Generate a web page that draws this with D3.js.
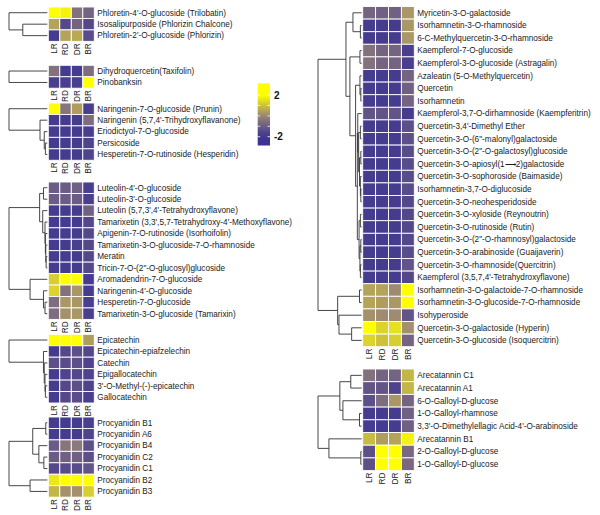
<!DOCTYPE html>
<html><head><meta charset="utf-8">
<script src="https://cdn.jsdelivr.net/npm/d3@7"></script>
<style>body{margin:0;background:#fff;} text{font-family:"Liberation Sans",Arial,sans-serif;}</style>
</head><body><svg id="chart" width="600" height="515"></svg>
<script>
const columns = ["LR","RD","DR","BR"];

// ---- Left column panels ----
const phloretinRows = ["Phloretin-4'-O-glucoside (Trilobatin)","Isosalipurposide (Phlorizin Chalcone)","Phloretin-2'-O-glucoside (Phlorizin)"];
const phloretinValues = [[2,1.8,-0.5,-0.8],[0.5,-1.5,-0.8,-1.5],[-1.8,0.5,0.6,-1.4]];
const phloretinTree = [1,0,[0.64,1,2]];

const taxifolinRows = ["Dihydroquercetin(Taxifolin)","Pinobanksin"];
const taxifolinValues = [[-0.5,-1.8,-1.8,-0.6],[-1.7,-1.7,-1.7,2]];
const taxifolinTree = [1,0,1];

const naringeninRows = ["Naringenin-7-O-glucoside (Prunin)","Naringenin (5,7,4'-Trihydroxyflavanone)","Eriodictyol-7-O-glucoside","Persicoside","Hesperetin-7-O-rutinoside (Hesperidin)"];
const naringeninValues = [[2,-0.4,0.4,-1.7],[-1.8,-1.8,-1.8,-0.6],[-1.8,-1.8,-1.8,-1.7],[-1.8,-1.8,-1.8,-1.6],[-1.8,-1.8,-1.8,-1.6]];
const naringeninTree = [1,0,[0.19,1,[0.08,2,[0.05,3,4]]]];

const luteolinRows = ["Luteolin-4'-O-glucoside","Luteolin-3'-O-glucoside","Luteolin (5,7,3',4'-Tetrahydroxyflavone)","Tamarixetin (3,3',5,7-Tetrahydroxy-4'-Methoxyflavone)","Apigenin-7-O-rutinoside (Isorhoifolin)","Tamarixetin-3-O-glucoside-7-O-rhamnoside","Meratin","Tricin-7-O-(2\"-O-glucosyl)glucoside","Aromadendrin-7-O-glucoside","Naringenin-4'-O-glucoside","Hesperetin-7-O-glucoside","Tamarixetin-3-O-glucoside (Tamarixin)"];
const luteolinValues = [[-1.0,-1.0,-0.9,-1.7],[-1.0,-1.0,-1.0,-1.7],[-1.8,-1.8,-1.8,-0.9],[-1.8,-1.8,-1.8,-1.5],[-1.8,-1.8,-1.8,-1.5],[-1.8,-1.8,-1.7,-1.5],[-1.8,-1.8,-1.8,-1.5],[-1.8,-1.8,-1.8,-1.5],[1.2,2,2,-1.8],[1.3,-0.5,0.3,-1.8],[-0.6,0.3,0.3,-1.7],[-0.6,0.2,0.3,-1.7]];
const luteolinTree = [1,[0.2,[0.1,0,1],[0.12,2,[0.06,3,[0.05,4,[0.04,5,[0.03,6,7]]]]]],[0.45,8,[0.1,9,[0.06,10,11]]]];

const catechinRows = ["Epicatechin","Epicatechin-epiafzelechin","Catechin","Epigallocatechin","3'-O-Methyl-(-)-epicatechin","Gallocatechin"];
const catechinValues = [[2,2,2,0.4],[-1.8,-1.5,-1.3,-1.5],[-1.3,-1.4,-1.3,-1.6],[-1.8,-1.6,-1.5,-1.6],[-1.8,-1.5,-1.3,-1.6],[-1.8,-1.5,-1.4,-1.7]];
const catechinTree = [1,0,[0.1,1,[0.08,2,[0.06,3,[0.05,4,5]]]]];

const procyanidinRows = ["Procyanidin B1","Procyanidin A6","Procyanidin B4","Procyanidin C2","Procyanidin C1","Procyanidin B2","Procyanidin B3"];
const procyanidinValues = [[-1.8,-1.8,-1.8,-1.7],[-1.8,-1.8,-1.8,-1.6],[-1.0,-0.4,-0.3,-1.3],[-1.0,-0.9,-0.9,-1.3],[-1.5,-1.4,-1.4,-1.2],[1.6,2,2,2],[0.8,0.2,0.2,1.2]];
const procyanidinTree = [1,[0.38,[0.04,0,1],[0.22,2,[0.09,3,4]]],[0.45,5,6]];

// ---- Right column panels ----
const flavonolRows = ["Myricetin-3-O-galactoside","Isorhamnetin-3-O-rhamnoside","6-C-Methylquercetin-3-O-rhamnoside","Kaempferol-7-O-glucoside","Kaempferol-3-O-glucoside (Astragalin)","Azaleatin (5-O-Methylquercetin)","Quercetin","Isorhamnetin","Kaempferol-3,7-O-dirhamnoside (Kaempferitrin)","Quercetin-3,4'-Dimethyl Ether","Quercetin-3-O-(6\"-malonyl)galactoside","Quercetin-3-O-(2\"-O-galactosyl)glucoside","Quercetin-3-O-apiosyl(1\u27f62)galactoside","Quercetin-3-O-sophoroside (Baimaside)","Isorhamnetin-3,7-O-diglucoside","Quercetin-3-O-neohesperidoside","Quercetin-3-O-xyloside (Reynoutrin)","Quercetin-3-O-rutinoside (Rutin)","Quercetin-3-O-(2\"-O-rhamnosyl)galactoside","Quercetin-3-O-arabinoside (Guaijaverin)","Quercetin-3-O-rhamnoside(Quercitrin)","Kaempferol (3,5,7,4'-Tetrahydroxyflavone)","Isorhamnetin-3-O-galactoide-7-O-rhamnoside","Isorhamnetin-3-O-glucoside-7-O-rhamnoside","Isohyperoside","Quercetin-3-O-galactoside (Hyperin)","Quercetin-3-O-glucoside (Isoquercitrin)"];
const flavonolValues = [[-0.8,-0.9,-0.9,0.3],[-1.8,-1.8,-1.8,0.3],[-1.8,-1.8,-1.8,0.3],[-0.5,-0.8,-0.8,-1.7],[-0.5,-0.8,-0.8,-1.7],[-1.8,-1.8,-1.8,-0.8],[-1.8,-1.8,-1.8,-0.9],[-1.8,-1.8,-1.8,-0.8],[-1.2,-1.2,-1.2,-1.8],[-1.8,-1.8,-1.8,-1.3],[-1.8,-1.8,-1.8,-1.3],[-1.8,-1.8,-1.8,-1.4],[-1.8,-1.8,-1.8,-1.4],[-1.8,-1.8,-1.8,-1.4],[-1.8,-1.8,-1.8,-1.4],[-1.8,-1.8,-1.8,-1.5],[-1.8,-1.8,-1.8,-1.5],[-1.8,-1.8,-1.8,-1.5],[-1.8,-1.8,-1.8,-1.5],[-1.8,-1.8,-1.8,-1.4],[-1.8,-1.8,-1.8,-1.2],[-1.8,-1.8,-1.8,-1.5],[0.5,0.5,0.1,2],[0.5,0.4,0.3,2],[0.2,0.1,0.1,-1.2],[2,1.3,1.5,0.2],[1.3,1.0,1.2,-0.8]];
const flavonolTree = [1,
  [0.36,[0.2,0,[0.03,1,2]],[0.27,[0.04,3,4],[0.14,[0.04,5,[0.02,6,7]],[0.1,[0.09,8,[0.07,[0.03,9,10],[0.05,[0.02,11,12],[0.03,13,[0.02,14,15]]]]],[0.06,[0.03,16,17],[0.04,[0.02,18,19],[0.03,20,21]]]]]]],
  [0.55,[0.05,22,23],[0.52,24,[0.23,25,26]]]];

const tanninRows = ["Arecatannin C1","Arecatannin A1","6-O-Galloyl-D-glucose","1-O-Galloyl-rhamnose","3,3'-O-Dimethylellagic Acid-4'-O-arabinoside","Arecatannin B1","2-O-Galloyl-D-glucose","1-O-Galloyl-D-glucose"];
const tanninValues = [[-0.5,-0.8,-0.8,0.8],[-1.2,-1.2,-1.6,0.8],[-1.3,-0.6,0.3,-0.8],[-1.8,-1.8,-1.8,-0.9],[-1.8,-1.8,-1.8,-0.9],[0.9,0.4,0.5,1.8],[-1.3,2,2,-0.7],[-1.3,2,2,-0.7]];
const tanninTree = [1,[0.5,[0.25,0,1],[0.43,2,[0.05,3,4]]],[0.75,5,[0.02,6,7]]];

const legendTicks = [2,-2];

// ---- drawing ----
const svg = d3.select("#chart");
const color = d3.scaleLinear().domain([-2,0,2]).range(["#3c3392","#9a8577","#ffff00"]).clamp(true);

const leftGeom = {x0:48.3, x1:94.3, rootX:9, rh:11.45};
const rightGeom = {x0:362.7, x1:414.3, rootX:318, rh:12.6};
const panels = [
  {rows:phloretinRows, vals:phloretinValues, tree:phloretinTree, g:leftGeom, top:7},
  {rows:taxifolinRows, vals:taxifolinValues, tree:taxifolinTree, g:leftGeom, top:65.3},
  {rows:naringeninRows, vals:naringeninValues, tree:naringeninTree, g:leftGeom, top:103},
  {rows:luteolinRows, vals:luteolinValues, tree:luteolinTree, g:leftGeom, top:182},
  {rows:catechinRows, vals:catechinValues, tree:catechinTree, g:leftGeom, top:334.3},
  {rows:procyanidinRows, vals:procyanidinValues, tree:procyanidinTree, g:leftGeom, top:417},
  {rows:flavonolRows, vals:flavonolValues, tree:flavonolTree, g:rightGeom, top:6.5},
  {rows:tanninRows, vals:tanninValues, tree:tanninTree, g:Object.assign({},rightGeom,{rh:12.7}), top:369}
];

panels.forEach(p => {
  const g = p.g;
  const xs = d3.scaleBand().domain(columns).range([g.x0, g.x1]);
  const ys = d3.scaleBand().domain(d3.range(p.rows.length)).range([p.top, p.top + g.rh*p.rows.length]);
  const hx = d3.scaleLinear().domain([0,1]).range([g.x0 - 1, g.rootX]);
  const layer = svg.append("g");
  const cells = [];
  p.vals.forEach((r,i) => r.forEach((v,j) => cells.push({i, c:columns[j], v})));
  layer.selectAll("rect.cell").data(cells).join("rect").attr("class","cell")
    .attr("x", d => xs(d.c)).attr("y", d => ys(d.i))
    .attr("width", xs.bandwidth()).attr("height", ys.bandwidth())
    .attr("fill", d => color(d.v)).attr("stroke", "#fff").attr("stroke-width", 0.9);
  layer.selectAll("text.row").data(p.rows).join("text").attr("class","row")
    .attr("x", g.x1 + 3).attr("y", (d,i) => ys(i) + ys.bandwidth()/2)
    .attr("dy", "0.35em").attr("font-size", 8.2).attr("fill", "#1a1a1a").text(d => d);
  const bottom = p.top + g.rh*p.rows.length;
  layer.selectAll("text.col").data(columns).join("text").attr("class","col")
    .attr("transform", d => `translate(${xs(d) + xs.bandwidth()/2 + 2.9},${bottom + 2}) rotate(-90)`)
    .attr("text-anchor", "end").attr("font-size", 8.2).attr("fill", "#1a1a1a").text(d => d);
  // dendrogram
  const segs = [];
  function walk(n) {
    if (typeof n === "number") return {x: hx(0), y: ys(n) + ys.bandwidth()/2};
    const a = walk(n[1]), b = walk(n[2]);
    const x = hx(n[0]);
    segs.push([[x,a.y],[x,b.y]], [[x,a.y],[a.x,a.y]], [[x,b.y],[b.x,b.y]]);
    return {x, y:(a.y+b.y)/2};
  }
  walk(p.tree);
  layer.selectAll("path.dend").data(segs).join("path").attr("class","dend")
    .attr("d", d => d3.line()(d)).attr("stroke", "#333").attr("stroke-width", 0.9).attr("fill", "none");
});

// legend
const ly = d3.scaleLinear().domain([-2,2]).range([136.7, 95]);
const lx0 = 257.7, lw = 12.3;
const defs = svg.append("defs");
const grad = defs.append("linearGradient").attr("id","lg").attr("x1",0).attr("x2",0).attr("y1",1).attr("y2",0);
const vTop = ly.invert(83.3), vBot = ly.invert(145.5);
d3.range(0,1.0001,0.1).forEach(t => {
  grad.append("stop").attr("offset", t).attr("stop-color", color(vBot + t*(vTop - vBot)));
});
svg.append("rect").attr("x", lx0).attr("y", 83.3).attr("width", lw).attr("height", 145.5-83.3).attr("fill","url(#lg)");
const tickVals = d3.range(-2, 2.01, 1);
svg.selectAll("line.lt").data(tickVals).join("line").attr("class","lt")
  .attr("x1", lx0).attr("x2", lx0+2.5).attr("y1", d => ly(d)).attr("y2", d => ly(d)).attr("stroke","#fff").attr("stroke-width",0.8);
svg.selectAll("line.rt").data(tickVals).join("line").attr("class","rt")
  .attr("x1", lx0+lw-2.5).attr("x2", lx0+lw).attr("y1", d => ly(d)).attr("y2", d => ly(d)).attr("stroke","#fff").attr("stroke-width",0.8);
svg.selectAll("text.lg").data(legendTicks).join("text").attr("class","lg")
  .attr("x", lx0 + lw + 4).attr("y", d => ly(d)).attr("dy","0.35em")
  .attr("font-size", 10).attr("font-weight","bold").attr("fill","#111").text(d => d);
</script></body></html>
